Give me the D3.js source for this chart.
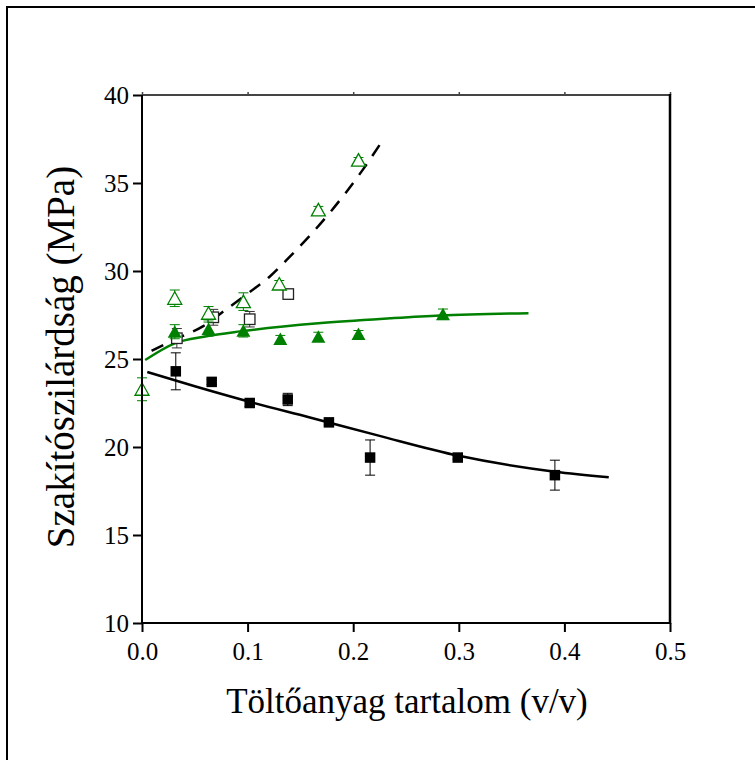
<!DOCTYPE html>
<html><head><meta charset="utf-8">
<script src="https://cdn.jsdelivr.net/npm/d3@7"></script>
<style>body{margin:0;background:#fff}svg{display:block}text{font-family:"Liberation Serif","Times New Roman",serif}</style>
</head><body>
<svg id="c" width="755" height="760"></svg>
<script>
// ---- data ----
const xTicks = [0.0, 0.1, 0.2, 0.3, 0.4, 0.5];
const yTicks = [10, 15, 20, 25, 30, 35, 40];

// filled black squares
const sqX = [0.032, 0.066, 0.102, 0.138, 0.177, 0.216, 0.299, 0.391];
const sqY = [24.3, 23.7, 22.5, 22.7, 21.4, 19.4, 19.4, 18.4];
const sqErr = [1.05, 0.15, 0.2, 0.35, 0.15, 1.0, 0.1, 0.85];

// filled green triangles
const triX = [0.031, 0.063, 0.096, 0.131, 0.167, 0.205, 0.285];
const triY = [26.55, 26.7, 26.6, 26.14, 26.27, 26.42, 27.54];
const triErr = [0.4, 0.4, 0.35, 0.2, 0.25, 0.2, 0.3];

// hollow green triangles
const htX = [0.0, 0.031, 0.063, 0.096, 0.130, 0.167, 0.205];
const htY = [23.28, 28.45, 27.6, 28.26, 29.26, 33.47, 36.3];
const htErr = [0.65, 0.47, 0.38, 0.5, 0.2, 0.2, 0.15];

// hollow black squares
const hsX = [0.033, 0.0675, 0.102, 0.1385];
const hsY = [26.18, 27.37, 27.26, 28.69];
const hsErr = [0.55, 0.45, 0.44, 0.15];

// fitted curves
const fitBlackX = [0.005, 0.05, 0.1, 0.159, 0.225, 0.3, 0.391, 0.442];
const fitBlackY = [24.26, 23.45, 22.6, 21.68, 20.63, 19.5, 18.6, 18.28];
const fitGreenX = [0.003, 0.031, 0.06, 0.093, 0.167, 0.235, 0.282, 0.366];
const fitGreenY = [24.94, 25.89, 26.28, 26.57, 27.03, 27.31, 27.47, 27.6];
const fitDashX = [0.009, 0.034, 0.058, 0.078, 0.099, 0.1206, 0.137, 0.176, 0.21, 0.2285];
const fitDashY = [25.47, 26.19, 26.87, 27.74, 28.68, 29.66, 30.63, 33.18, 35.83, 37.48];

// ---- layout ----
const L = 142, R = 670, T = 95, B = 623;
const svg = d3.select('#c');
const x = d3.scaleLinear().domain([0, 0.5]).range([L, R]);
const y = d3.scaleLinear().domain([10, 40]).range([B, T]);
const GREEN = '#008000';
const serif = '"Liberation Serif", "Times New Roman", serif';

// outer frame
svg.append('rect').attr('x', 7).attr('y', 7).attr('width', 900).attr('height', 900)
  .attr('fill', 'none').attr('stroke', '#000').attr('stroke-width', 2);

// fit curves
const zip = (a, b) => a.map((v, i) => [v, b[i]]);
const line = d3.line().x(d => x(d[0])).y(d => y(d[1])).curve(d3.curveMonotoneX);
svg.append('path').attr('d', line(zip(fitBlackX, fitBlackY)))
  .attr('fill', 'none').attr('stroke', '#000').attr('stroke-width', 2.5);
svg.append('path').attr('d', line(zip(fitGreenX, fitGreenY)))
  .attr('fill', 'none').attr('stroke', GREEN).attr('stroke-width', 2.5);
svg.append('path').attr('d', line(zip(fitDashX, fitDashY)))
  .attr('fill', 'none').attr('stroke', '#000').attr('stroke-width', 2.5)
  .attr('stroke-dasharray', '13,10');

// error bars helper
function errBars(xs, ys, es, color) {
  const g = svg.append('g').attr('stroke', color).attr('stroke-width', 1).attr('fill', 'none');
  xs.forEach((xv, i) => {
    const cx = x(xv), y1 = y(ys[i] + es[i]), y2 = y(ys[i] - es[i]);
    g.append('line').attr('x1', cx).attr('x2', cx).attr('y1', y1).attr('y2', y2);
    g.append('line').attr('x1', cx - 5).attr('x2', cx + 5).attr('y1', y1).attr('y2', y1);
    g.append('line').attr('x1', cx - 5).attr('x2', cx + 5).attr('y1', y2).attr('y2', y2);
  });
}

const triPath = 'M0,-6.5L7,6L-7,6Z';
const SQ = 10.5;

// hollow squares
errBars(hsX, hsY, hsErr, '#333');
svg.append('g').selectAll('rect').data(zip(hsX, hsY)).join('rect')
  .attr('x', d => x(d[0]) - SQ / 2).attr('y', d => y(d[1]) - SQ / 2)
  .attr('width', SQ).attr('height', SQ)
  .attr('fill', '#fff').attr('stroke', '#222').attr('stroke-width', 1.3);

// hollow triangles
errBars(htX, htY, htErr, GREEN);
svg.append('g').selectAll('path').data(zip(htX, htY)).join('path')
  .attr('d', triPath).attr('transform', d => `translate(${x(d[0])},${y(d[1])})`)
  .attr('fill', '#fff').attr('stroke', GREEN).attr('stroke-width', 1.3);

// filled triangles
errBars(triX, triY, triErr, GREEN);
svg.append('g').selectAll('path').data(zip(triX, triY)).join('path')
  .attr('d', triPath).attr('transform', d => `translate(${x(d[0])},${y(d[1])})`)
  .attr('fill', GREEN);

// filled squares
errBars(sqX, sqY, sqErr, '#000');
svg.append('g').selectAll('rect').data(zip(sqX, sqY)).join('rect')
  .attr('x', d => x(d[0]) - SQ / 2).attr('y', d => y(d[1]) - SQ / 2)
  .attr('width', SQ).attr('height', SQ).attr('fill', '#000');

// axes
const xAxis = d3.axisBottom(x).tickValues(xTicks).tickFormat(d3.format('.1f')).tickSize(9).tickPadding(10);
const yAxis = d3.axisLeft(y).tickValues(yTicks).tickFormat(d3.format('d')).tickSize(9).tickPadding(4);
const gx = svg.append('g').attr('transform', `translate(0,${B})`).call(xAxis);
const gy = svg.append('g').attr('transform', `translate(${L},0)`).call(yAxis);
[gx, gy].forEach(g => {
  g.attr('font-family', null).attr('font-size', null);
  g.select('.domain').remove();
  g.selectAll('.tick line').attr('stroke', '#000').attr('stroke-width', 2);
  g.selectAll('.tick text').style('font-family', serif).style('font-size', '25px').attr('fill', '#000');
});
const gt = svg.append('g').attr('transform', `translate(0,${T})`)
  .call(d3.axisTop(x).tickValues(xTicks).tickSize(3).tickFormat(''));
gt.select('.domain').remove();
gt.selectAll('.tick line').attr('stroke', '#444').attr('stroke-width', 1.5);

// frame of plot
svg.append('line').attr('x1', L).attr('x2', R).attr('y1', T).attr('y2', T).attr('stroke', '#444').attr('stroke-width', 2);
svg.append('line').attr('x1', L).attr('x2', R + 1).attr('y1', B).attr('y2', B).attr('stroke', '#000').attr('stroke-width', 2);
svg.append('line').attr('x1', L).attr('x2', L).attr('y1', T).attr('y2', B + 1).attr('stroke', '#000').attr('stroke-width', 2);
svg.append('line').attr('x1', R).attr('x2', R).attr('y1', T - 1).attr('y2', B + 1).attr('stroke', '#000').attr('stroke-width', 2.5);

// titles
svg.append('text').attr('x', 407).attr('y', 713).attr('text-anchor', 'middle')
  .style('font-family', serif).style('font-size', '35px').text('Töltőanyag tartalom (v/v)');
svg.append('text').attr('transform', `translate(74,357) rotate(-90)`).attr('text-anchor', 'middle')
  .style('font-family', serif).style('font-size', '39px').text('Szakítószilárdság (MPa)');
</script>
</body></html>
